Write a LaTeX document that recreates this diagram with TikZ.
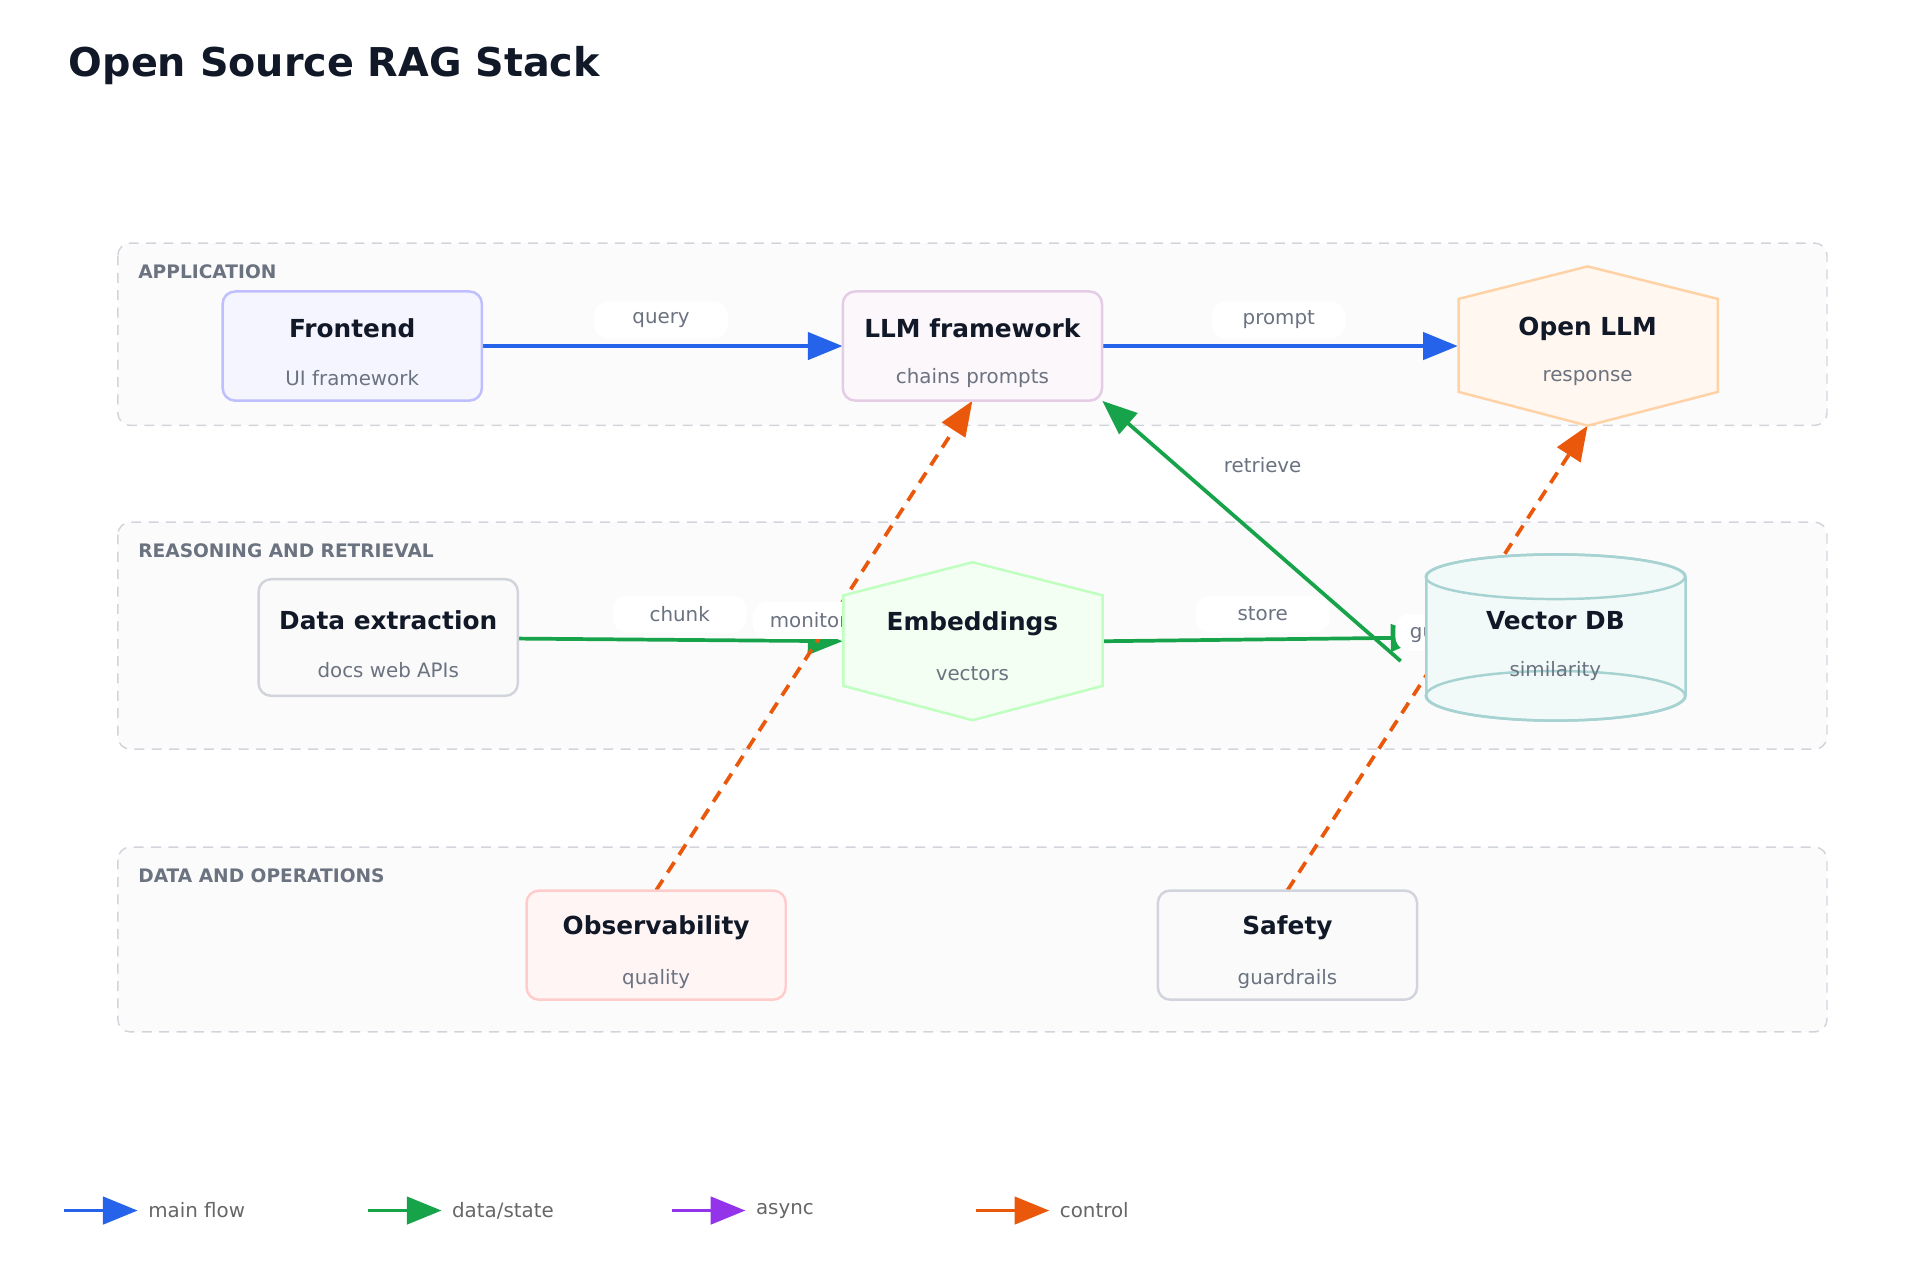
\documentclass[tikz,border=0pt]{standalone}
\usepackage{fontspec}
\setmainfont{DejaVu Sans}
\usetikzlibrary{arrows.meta}
\definecolor{ink}{HTML}{111827}
\definecolor{mute}{HTML}{6B7280}
\definecolor{lanec}{HTML}{D1D5DB}
\definecolor{blueA}{HTML}{2563EB}
\definecolor{greenA}{HTML}{16A34A}
\definecolor{purpA}{HTML}{9333EA}
\definecolor{orA}{HTML}{EA580C}
\begin{document}
\begin{tikzpicture}[x=1pt,y=-1pt,
 lane/.style={draw=lanec,dashed,dash pattern=on 8pt off 6pt,line width=1.2pt,fill=gray!3,rounded corners=10pt},
 lanelab/.style={anchor=west,text=mute,font=\bfseries\fontsize{15}{18}\selectfont},
 box/.style={draw=#1,line width=2pt,rounded corners=10pt,minimum width=209pt,minimum height=88pt},
 ghost/.style={minimum width=209pt,minimum height=#1,inner sep=0pt},
 ttl/.style={text=ink,font=\bfseries\fontsize{20}{24}\selectfont},
 sub/.style={text=mute,font=\fontsize{16}{19}\selectfont},
 elab/.style={fill=white,rounded corners=12pt,text=mute,font=\fontsize{16}{19}\selectfont,minimum width=108pt,minimum height=30pt},
 flow/.style={line width=3pt,-{Triangle[length=28pt,width=22pt]}},
 ctrl/.style={flow,orA,dash pattern=on 10pt off 7pt},
]
\useasboundingbox (0,0) rectangle (1548,1032);
\node[anchor=base west,text=ink,font=\bfseries\fontsize{32}{38}\selectfont] (title) at (52,62) {Open Source RAG Stack};
% lanes
\draw[lane] (95,196) rectangle (1473,343);
\draw[lane] (95,421) rectangle (1473,604);
\draw[lane] (95,683) rectangle (1473,832);
\node[lanelab] (l1) at (108,219) {APPLICATION};
\node[lanelab] (l2) at (108,444) {REASONING AND RETRIEVAL};
\node[lanelab] (l3) at (108,706) {DATA AND OPERATIONS};
% node placeholders
\node[ghost=88pt] (fe) at (284,279) {};
\node[ghost=88pt] (llm) at (784,279) {};
\node[ghost=128pt] (olm) at (1280,279) {};
\node[ghost=94pt] (dx) at (313,514) {};
\node[ghost=127pt] (emb) at (784,517) {};
\node[ghost=134pt] (vdb) at (1254,514) {};
\node[ghost=88pt] (obs) at (529,762) {};
\node[ghost=88pt] (saf) at (1038,762) {};
% edges
\draw[flow,blueA] (fe) -- (llm);
\node[elab] (eq) at (533,258) {query};
\draw[flow,blueA] (llm) -- (olm.west);
\node[elab] (ep) at (1031,258) {prompt};
\draw[flow,greenA] (dx) -- (emb.west);
\node[elab] (ec) at (548,495) {chunk};
\draw[flow,greenA] (emb.east) -- (vdb.west);
\node[elab] (es) at (1018,495) {store};
\draw[flow,greenA] ([shift={(-20pt,-19pt)}]vdb.west) -- (llm.south east);
\node[elab,minimum width=80pt] (er) at (1018,375) {retrieve};
\draw[ctrl] (obs.north) -- (llm.south);
\node[elab,minimum width=90pt] (em) at (652,500) {monitor};
\draw[ctrl] (saf.north) -- (olm.south);
\node[elab,minimum width=70pt] (eg) at (1160,510) {guard};
% node shapes
\node[box=blue!25,fill=blue!4] at (fe) {};
\node[ttl] at (284,265) {Frontend};
\node[sub] at (284,305) {UI framework};
\node[box=violet!20,fill=violet!3] at (llm) {};
\node[ttl] at (784,265) {LLM framework};
\node[sub] at (784,305) {chains prompts};
\draw[line width=2pt,draw=orange!35,fill=orange!6] (olm.north) -- (1385,241) -- (1385,316) -- (olm.south) -- (1176,316) -- (1176,241) -- cycle;
\node[ttl] at (1280,265) {Open LLM};
\node[sub] at (1280,305) {response};
\node[box=lanec,fill=gray!4,minimum height=94pt] at (dx) {};
\node[ttl] at (313,500) {Data extraction};
\node[sub] at (313,540) {docs web APIs};
\draw[line width=2pt,draw=green!25,fill=green!5] (emb.north) -- (889,480) -- (889,553) -- (emb.south) -- (680,553) -- (680,480) -- cycle;
\node[ttl] at (784,503) {Embeddings};
\node[sub] at (784,543) {vectors};
\draw[line width=2pt,draw=teal!35,fill=teal!5] (1150,465) arc[start angle=180,end angle=0,x radius=104.5pt,y radius=18pt] -- (1359,561) arc[start angle=0,end angle=-180,x radius=104.5pt,y radius=20pt] -- cycle;
\draw[line width=2pt,draw=teal!35] (1254,465) ellipse[x radius=104.5pt,y radius=18pt];
\draw[line width=2pt,draw=teal!35] (1254,561) ellipse[x radius=104.5pt,y radius=20pt];
\node[ttl] at (1254,500) {Vector DB};
\node[sub] at (1254,541) {similarity};
\node[box=red!20,fill=red!4] at (obs) {};
\node[ttl] at (529,748) {Observability};
\node[sub] at (529,789) {quality};
\node[box=lanec,fill=gray!4] at (saf) {};
\node[ttl] at (1038,748) {Safety};
\node[sub] at (1038,789) {guardrails};
% legend
\coordinate (a1) at (52,976); \coordinate (b1) at (111,976);
\coordinate (a2) at (297,976); \coordinate (b2) at (356,976);
\coordinate (a3) at (542,976); \coordinate (b3) at (601,976);
\coordinate (a4) at (787,976); \coordinate (b4) at (846,976);
\draw[flow,blueA] (a1) -- (b1);
\draw[flow,greenA] (a2) -- (b2);
\draw[flow,purpA] (a3) -- (b3);
\draw[flow,orA] (a4) -- (b4);
\node[sub,anchor=west,text=gray!80!black] (t1) at (116,976) {main flow};
\node[sub,anchor=west,text=gray!80!black] (t2) at (361,976) {data/state};
\node[sub,anchor=west,text=gray!80!black] (t3) at (606,976) {async};
\node[sub,anchor=west,text=gray!80!black] (t4) at (851,976) {control};
\end{tikzpicture}
\end{document}
